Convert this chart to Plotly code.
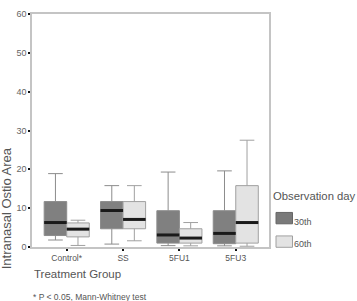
import plotly.graph_objects as go

groups = ["Control*", "SS", "5FU1", "5FU3"]
# 30th day
low30 = [1.8, 0.75, 0.35, 0.3]
q1_30 = [2.95, 4.7, 1.0, 0.85]
med30 = [6.3, 9.4, 3.1, 3.5]
q3_30 = [11.7, 11.7, 9.35, 9.35]
up30 = [18.9, 15.8, 19.3, 19.6]
# 60th day
low60 = [0.4, 1.6, 0.3, 0.2]
q1_60 = [2.6, 4.7, 1.0, 1.0]
med60 = [4.6, 7.1, 2.3, 6.3]
q3_60 = [6.2, 11.7, 4.7, 15.8]
up60 = [6.9, 15.8, 6.3, 27.5]

yticks = [0, 10, 20, 30, 40, 50, 60]

OFF = 0.2
W = 0.4
idx = list(range(len(groups)))
x30 = [i - OFF for i in idx]
x60 = [i + OFF for i in idx]

FONT = "Liberation Sans, Arial, sans-serif"
TXT = "#555555"

fig = go.Figure()
fig.add_trace(go.Box(x=x30, q1=q1_30, median=med30, q3=q3_30,
                     lowerfence=low30, upperfence=up30, width=W,
                     fillcolor="#808080", line=dict(color="#8c8c8c", width=1),
                     whiskerwidth=0.65, name="30th", showlegend=False,
                     hoverinfo="skip"))
fig.add_trace(go.Box(x=x60, q1=q1_60, median=med60, q3=q3_60,
                     lowerfence=low60, upperfence=up60, width=W,
                     fillcolor="#e3e3e3", line=dict(color="#a0a0a0", width=1),
                     whiskerwidth=0.65, name="60th", showlegend=False,
                     hoverinfo="skip"))

# thick black median lines
mx, my = [], []
for xs, ms in ((x30, med30), (x60, med60)):
    for xc, m in zip(xs, ms):
        mx += [xc - W / 2, xc + W / 2, None]
        my += [m, m, None]
fig.add_trace(go.Scatter(x=mx, y=my, mode="lines",
                         line=dict(color="#1a1a1a", width=3),
                         showlegend=False, hoverinfo="skip"))

def px(xp):
    return (xp - 32) / 237.0

def py(yp):
    return (247 - yp) / 238.0

ann = [
    dict(text="Intranasal Ostio Area", x=px(6.5), y=py(208), textangle=-90,
         font=dict(size=13, color=TXT), xanchor="center", yanchor="middle"),
    dict(text="Treatment Group", x=px(32), y=py(275),
         font=dict(size=11.5, color=TXT), xanchor="left", yanchor="middle"),
    dict(text="* P < 0.05, Mann-Whitney test", x=px(31), y=py(298),
         font=dict(size=8.5, color=TXT), xanchor="left", yanchor="middle"),
    dict(text="Observation day", x=px(271), y=py(195),
         font=dict(size=11.3, color=TXT), xanchor="left", yanchor="middle"),
    dict(text="30th", x=px(292), y=py(221),
         font=dict(size=9, color=TXT), xanchor="left", yanchor="middle"),
    dict(text="60th", x=px(292), y=py(244),
         font=dict(size=9, color=TXT), xanchor="left", yanchor="middle"),
]
for a in ann:
    a.update(xref="paper", yref="paper", showarrow=False)

shapes = [
    dict(type="rect", xref="paper", yref="paper",
         x0=px(276), x1=px(292.5), y0=py(223.3), y1=py(211.7),
         fillcolor="#7a7a7a", line=dict(color="#666666", width=1)),
    dict(type="rect", xref="paper", yref="paper",
         x0=px(276), x1=px(292.5), y0=py(247.3), y1=py(235.7),
         fillcolor="#e3e3e3", line=dict(color="#a0a0a0", width=1)),
]

fig.update_layout(
    width=357, height=301,
    margin=dict(l=32, r=88, t=9, b=54),
    paper_bgcolor="white", plot_bgcolor="white",
    font=dict(family=FONT, color=TXT),
    boxmode="overlay",
    showlegend=False,
    annotations=ann,
    shapes=shapes,
    xaxis=dict(range=[-0.616, 3.59], tickvals=idx, ticktext=groups,
               showgrid=False, zeroline=False, showline=True,
               linecolor="#c4c4c4", linewidth=1.5, mirror=True,
               ticks="outside", ticklen=2, tickwidth=2, tickcolor="#111111",
               tickfont=dict(size=8.5, color=TXT)),
    yaxis=dict(range=[0, 60], tickvals=yticks,
               showgrid=False, zeroline=False, showline=True,
               linecolor="#c4c4c4", linewidth=1.5, mirror=True,
               ticks="outside", ticklen=2, tickwidth=2, tickcolor="#111111",
               tickfont=dict(size=9, color="#666666")),
)

fig.write_html("out.html")
